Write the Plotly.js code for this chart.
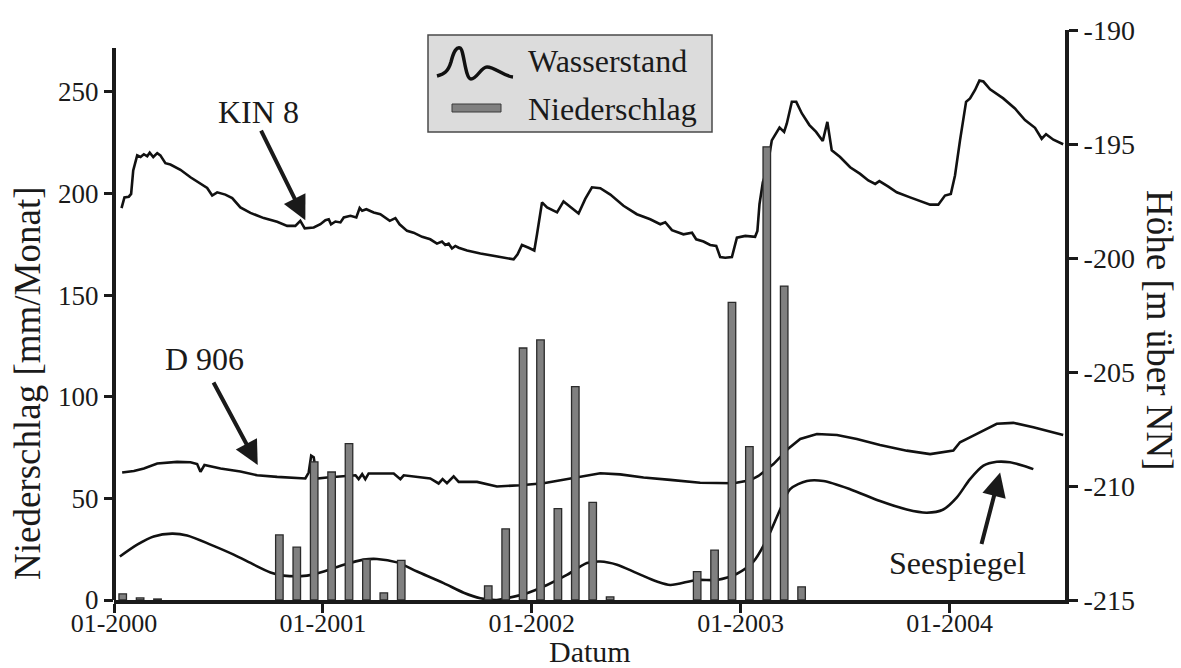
<!DOCTYPE html>
<html><head><meta charset="utf-8">
<script src="https://cdn.plot.ly/plotly-3.0.1.min.js"></script>
<style>html,body{margin:0;padding:0;background:#fff}#chart{width:1181px;height:668px}</style>
</head><body><div id="chart"></div>
<script>
// ---- Wasserstand (Höhe, m über NN), time as decimal year ----
const kinT=[2000.036,2000.050,2000.071,2000.082,2000.092,2000.111,2000.127,2000.143,2000.159,2000.171,
2000.188,2000.207,2000.222,2000.246,2000.270,2000.318,2000.366,2000.414,2000.446,2000.470,
2000.494,2000.533,2000.566,2000.605,2000.653,2000.717,2000.781,2000.829,2000.868,2000.892,
2000.913,2000.956,2000.988,2001.012,2001.028,2001.039,2001.060,2001.084,2001.100,2001.132,
2001.160,2001.176,2001.188,2001.208,2001.243,2001.275,2001.320,2001.347,2001.367,2001.403,
2001.434,2001.475,2001.514,2001.546,2001.570,2001.586,2001.602,2001.618,2001.634,2001.650,
2001.690,2001.754,2001.817,2001.865,2001.913,2001.932,2001.953,2001.985,2002.012,2002.025,
2002.049,2002.073,2002.121,2002.152,2002.184,2002.224,2002.256,2002.288,2002.328,2002.376,
2002.439,2002.503,2002.567,2002.615,2002.639,2002.671,2002.726,2002.767,2002.787,2002.822,
2002.854,2002.883,2002.902,2002.926,2002.958,2002.982,2003.022,2003.069,2003.080,2003.090,
2003.106,2003.125,2003.149,2003.165,2003.186,2003.208,2003.221,2003.245,2003.266,2003.293,
2003.329,2003.361,2003.393,2003.415,2003.436,2003.476,2003.524,2003.572,2003.611,2003.644,
2003.664,2003.707,2003.747,2003.811,2003.867,2003.907,2003.946,2003.978,2004.006,2004.026,
2004.050,2004.079,2004.098,2004.122,2004.143,2004.162,2004.194,2004.257,2004.313,2004.361,
2004.409,2004.441,2004.462,2004.497,2004.544];
const kinH=[-197.81,-197.34,-197.31,-197.19,-196.16,-195.50,-195.57,-195.45,-195.54,-195.38,
-195.57,-195.40,-195.50,-195.84,-195.90,-196.13,-196.46,-196.72,-196.93,-197.26,
-197.12,-197.22,-197.37,-197.78,-198.02,-198.25,-198.41,-198.59,-198.59,-198.37,
-198.70,-198.66,-198.52,-198.34,-198.30,-198.52,-198.40,-198.44,-198.22,-198.15,
-198.22,-197.81,-197.93,-197.86,-198.00,-198.08,-198.37,-198.25,-198.52,-198.81,
-198.89,-199.07,-199.18,-199.37,-199.28,-199.43,-199.37,-199.58,-199.47,-199.55,
-199.67,-199.80,-199.89,-199.99,-200.06,-199.84,-199.43,-199.55,-199.67,-198.96,
-197.56,-197.78,-198.00,-197.52,-197.75,-198.05,-197.41,-196.90,-196.94,-197.22,
-197.71,-198.08,-198.30,-198.52,-198.43,-198.78,-198.96,-198.89,-199.18,-199.28,
-199.43,-199.47,-199.96,-199.99,-199.96,-199.11,-199.03,-199.07,-198.81,-197.64,
-196.68,-196.16,-194.84,-194.62,-194.28,-194.47,-194.10,-193.15,-193.15,-193.66,
-194.17,-194.47,-194.87,-194.03,-195.28,-195.57,-196.02,-196.31,-196.60,-196.75,
-196.63,-196.87,-197.12,-197.34,-197.52,-197.66,-197.66,-197.26,-197.19,-196.38,
-194.84,-193.15,-193.00,-192.63,-192.22,-192.26,-192.60,-193.00,-193.44,-193.95,
-194.29,-194.77,-194.57,-194.81,-195.01];

const d906T=[2000.039,2000.095,2000.143,2000.207,2000.302,2000.366,2000.398,2000.414,2000.433,2000.510,
2000.605,2000.685,2000.781,2000.916,2000.932,2000.944,2000.956,2000.972,2001.020,2001.100,
2001.156,2001.171,2001.188,2001.203,2001.219,2001.339,2001.371,2001.387,2001.514,2001.554,
2001.573,2001.594,2001.626,2001.650,2001.738,2001.833,2001.945,2002.056,2002.168,2002.264,
2002.328,2002.423,2002.535,2002.663,2002.806,2002.966,2003.045,2003.085,2003.157,2003.229,
2003.285,2003.365,2003.461,2003.556,2003.667,2003.795,2003.907,2004.018,2004.050,2004.114,
2004.226,2004.305,2004.401,2004.544];
const d906H=[-209.41,-209.34,-209.23,-209.01,-208.94,-208.96,-209.04,-209.38,-209.08,-209.23,
-209.36,-209.53,-209.60,-209.67,-209.41,-208.67,-208.74,-209.67,-209.63,-209.56,
-209.53,-209.70,-209.48,-209.70,-209.45,-209.45,-209.70,-209.53,-209.67,-209.89,
-209.70,-209.88,-209.58,-209.82,-209.82,-210.02,-209.97,-209.88,-209.70,-209.53,
-209.44,-209.49,-209.63,-209.73,-209.86,-209.88,-209.75,-209.56,-209.04,-208.35,
-207.94,-207.72,-207.76,-207.94,-208.20,-208.45,-208.60,-208.45,-208.08,-207.79,
-207.27,-207.23,-207.42,-207.76];

const seeT=[2000.028,2000.111,2000.190,2000.278,2000.350,2000.462,2000.573,2000.669,2000.749,2000.812,
2000.924,2001.004,2001.100,2001.195,2001.259,2001.355,2001.451,2001.578,2001.674,2001.754,
2001.833,2001.881,2001.977,2002.073,2002.168,2002.264,2002.328,2002.408,2002.503,2002.599,
2002.663,2002.790,2002.886,2002.982,2003.061,2003.125,2003.189,2003.237,2003.317,2003.396,
2003.524,2003.667,2003.795,2003.891,2003.970,2004.034,2004.098,2004.162,2004.226,2004.289,
2004.353,2004.401];
const seeH=[-213.09,-212.57,-212.21,-212.09,-212.17,-212.57,-213.01,-213.45,-213.79,-213.93,
-213.93,-213.75,-213.45,-213.23,-213.20,-213.35,-213.75,-214.26,-214.68,-214.92,
-215.00,-214.92,-214.70,-214.34,-213.90,-213.38,-213.31,-213.45,-213.82,-214.19,
-214.34,-214.12,-214.12,-213.85,-213.32,-212.35,-211.03,-210.14,-209.78,-209.78,
-210.14,-210.66,-211.03,-211.17,-211.03,-210.51,-209.70,-209.11,-208.94,-208.96,
-209.11,-209.26];

// ---- Niederschlag (mm/Monat) ----
const rainMonths=['2000-01','2000-02','2000-03','2000-10','2000-11','2000-12','2001-01','2001-02','2001-03','2001-04','2001-05',
'2001-10','2001-11','2001-12','2002-01','2002-02','2002-03','2002-04','2002-05',
'2002-10','2002-11','2002-12','2003-01','2003-02','2003-03','2003-04'];
const rainValues=[3,1,0.5,32,26,68,63,77,20,3.5,19.5,
7,35,124,128,45,105,48,1.5,
14,24.5,146.5,75.5,223,154.5,6.5];

// ---- ticks ----
const xTickVals=[2000,2001,2002,2003,2004];
const xTickText=['01-2000','01-2001','01-2002','01-2003','01-2004'];
const leftTickVals=[0,50,100,150,200,250];
const rightTickVals=[-215,-210,-205,-200,-195,-190];
const rightTickText=['-215','-210','-205','-200','-195','-190'];

const rainX=rainMonths.map(m=>{const p=m.split('-').map(Number);return p[0]+(p[1]-0.5)/12;});

const L=114,R=1065,T=30,B=600;
const px=x=>(x-L)/(R-L), py=y=>(B-y)/(B-T);
const FONT='Liberation Serif, Times New Roman, serif';
const INK='#1a1a1a';
const line={color:'#111',width:2.6};

const traces=[
 {x:kinT,y:kinH,type:'scatter',mode:'lines',name:'KIN 8',line:line,xaxis:'x',yaxis:'y',hoverinfo:'skip'},
 {x:d906T,y:d906H,type:'scatter',mode:'lines',name:'D 906',line:line,xaxis:'x',yaxis:'y',hoverinfo:'skip'},
 {x:seeT,y:seeH,type:'scatter',mode:'lines',name:'Seespiegel',line:{color:'#111',width:2.6,shape:'spline',smoothing:0.8},xaxis:'x',yaxis:'y',hoverinfo:'skip'},
 {x:rainX,y:rainValues,type:'bar',name:'Niederschlag',width:0.036,xaxis:'x',yaxis:'y2',
  marker:{color:'#808080',line:{color:'#2b2b2b',width:1.3}},hoverinfo:'skip'}
];

const wavePx=[[437,76],[444,74],[448,72],[451,62],[454,50],[457,47],[460,48],[464,49],[465,79],[471,79],[477,79],[481,67],[487,67],[495,67],[503,76],[513,77]];
let wave='M'+px(wavePx[0][0])+','+py(wavePx[0][1]);
for(let i=1;i<wavePx.length;i+=3){
  wave+=' C'+[0,1,2].map(k=>px(wavePx[i+k][0])+','+py(wavePx[i+k][1])).join(' ');
}

const shapes=[
 {type:'line',xref:'paper',yref:'y2',x0:0,x1:0,y0:0,y1:271.6,line:{color:INK,width:4}},
 {type:'rect',xref:'paper',yref:'paper',x0:px(428),x1:px(712),y0:py(132),y1:py(35),fillcolor:'#dcdcdc',line:{color:'#4a4a4a',width:1.5}},
 {type:'path',xref:'paper',yref:'paper',path:wave,line:{color:'#111',width:3.5}},
 {type:'rect',xref:'paper',yref:'paper',x0:px(452),x1:px(501),y0:py(112),y1:py(104),fillcolor:'#808080',line:{color:'#3a3a3a',width:1}}
];

const txt=(t,x,y,size,extra)=>Object.assign({text:t,xref:'paper',yref:'paper',x:px(x),y:py(y),showarrow:false,
  xanchor:'center',yanchor:'middle',font:{family:FONT,size:size,color:INK}},extra||{});
const arrow=(x,y,ax,ay)=>({text:'',xref:'x',yref:'y',x:x,y:y,ax:ax,ay:ay,showarrow:true,arrowhead:2,arrowsize:1.2,arrowwidth:4,arrowcolor:INK});

const annotations=[
 txt('Wasserstand',526,61,32,{xanchor:'left'}),
 txt('Niederschlag',526,109,32,{xanchor:'left'}),
 txt('KIN 8',258,112,32),
 txt('D 906',204,359,32),
 txt('Seespiegel',957,563,32),
 txt('Niederschlag [mm/Monat]',28,383,37,{textangle:-90}),
 txt('Höhe [m über NN]',1160,330,37,{textangle:90}),
 txt('Datum',590,651,30),
 arrow(2000.916,-198.34,-45,-91),
 arrow(2000.688,-209.08,-45,-84),
 arrow(2004.242,-209.41,-19,73)
];

const axisCommon={showgrid:false,zeroline:false,ticks:'outside',ticklen:9,tickwidth:3,tickcolor:INK,
  tickfont:{family:FONT,size:28,color:INK},fixedrange:true};

const layout={
 width:1181,height:668,
 margin:{l:L,r:1181-R,t:T,b:668-B,pad:0},
 paper_bgcolor:'#ffffff',plot_bgcolor:'rgba(0,0,0,0)',
 showlegend:false,
 font:{family:FONT,color:INK,size:28},
 xaxis:Object.assign({},axisCommon,{range:[2000,2004.5526],tickmode:'array',tickvals:xTickVals,ticktext:xTickText,
   showline:true,linewidth:4,linecolor:INK,ticklabelstandoff:-12,tickfont:{family:FONT,size:26,color:INK}}),
 yaxis:Object.assign({},axisCommon,{range:[-215,-190],side:'right',tickmode:'array',tickvals:rightTickVals,ticktext:rightTickText,
   showline:true,linewidth:4,linecolor:INK}),
 yaxis2:Object.assign({},axisCommon,{range:[0,280.5],overlaying:'y',side:'left',tickmode:'array',tickvals:leftTickVals,
   showline:false,tickfont:{family:FONT,size:27,color:INK}}),
 shapes:shapes,
 annotations:annotations,
 bargap:0
};

Plotly.newPlot('chart',traces,layout,{displayModeBar:false,staticPlot:true});
</script>
</body></html>
